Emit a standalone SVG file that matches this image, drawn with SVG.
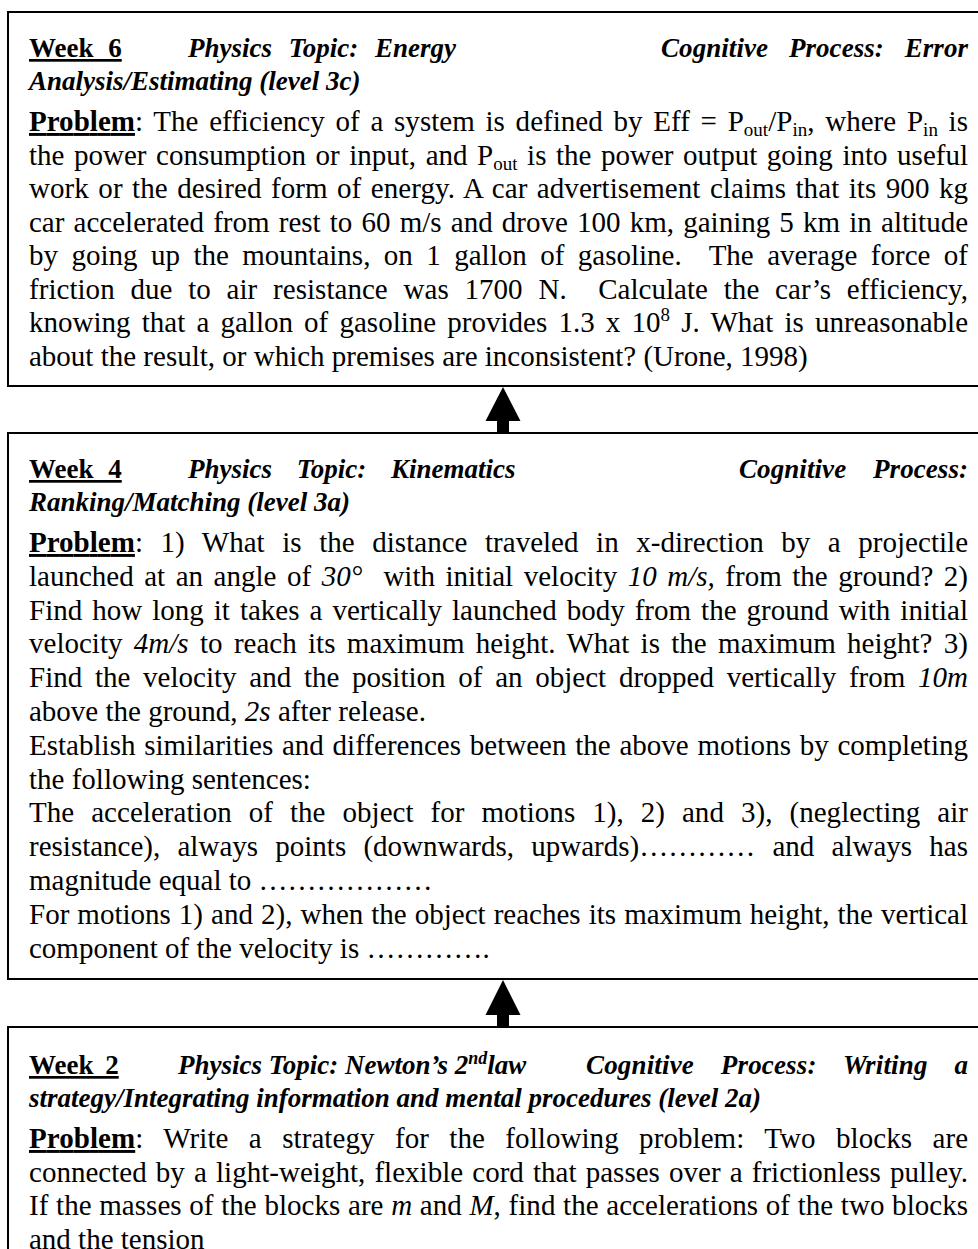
<svg xmlns="http://www.w3.org/2000/svg" width="978" height="1249" viewBox="0 0 978 1249">
<style>
.t{font-family:"Liberation Serif","Times New Roman",serif;font-size:29px;fill:#000}
.h{font-family:"Liberation Serif","Times New Roman",serif;font-size:27px;fill:#000}
.b{font-weight:bold}
.bi{font-weight:bold;font-style:italic}
.i{font-style:italic}
.u{text-decoration:underline}
.sub{font-size:19px;baseline-shift:-5px}
.sup{font-size:19px;baseline-shift:11px}
.hsup{font-size:18px;baseline-shift:10px}
.box{fill:#fff;stroke:#000;stroke-width:2}
.arr{fill:#000;stroke:none}
</style>
<rect x="0" y="0" width="978" height="1249" fill="#fff"/>
<g id="connectors">
<path class="arr" d="M497,433 L497,421 L485.5,421 L503,387 L520.5,421 L509,421 L509,433 Z"/>
<path class="arr" d="M497,1027 L497,1015 L485.5,1015 L503,980 L520.5,1015 L509,1015 L509,1027 Z"/>
</g>
<g id="week6">
<rect class="box" x="8" y="12" width="1000" height="374"/>
<text class="h b u" x="29" y="57" word-spacing="8">Week 6</text>
<text class="h bi" x="188" y="57" word-spacing="10">Physics Topic: Energy</text>
<text class="h bi" x="661" y="57" word-spacing="14" textLength="307" lengthAdjust="spacing">Cognitive Process: Error</text>
<text class="h bi" x="29" y="90">Analysis/Estimating (level 3c)</text>
<text class="t" x="29" y="131" word-spacing="3.44" textLength="939" lengthAdjust="spacing"><tspan class="b u">Problem</tspan>: The efficiency of a system is defined by Eff = P<tspan class="sub">out</tspan>/P<tspan class="sub">in</tspan>, where P<tspan class="sub">in</tspan> is</text>
<text class="t" x="29" y="164.5" word-spacing="2.32" textLength="939" lengthAdjust="spacing">the power consumption or input, and P<tspan class="sub">out</tspan> is the power output going into useful</text>
<text class="t" x="29" y="198" word-spacing="2.12" textLength="939" lengthAdjust="spacing">work or the desired form of energy. A car advertisement claims that its 900 kg</text>
<text class="t" x="29" y="231.5" word-spacing="1.93" textLength="939" lengthAdjust="spacing">car accelerated from rest to 60 m/s and drove 100 km, gaining 5 km in altitude</text>
<text class="t" x="29" y="265" word-spacing="6.2" textLength="939" lengthAdjust="spacing">by going up the mountains, on 1 gallon of gasoline. &#160;The average force of</text>
<text class="t" x="29" y="298.5" word-spacing="8.46" textLength="939" lengthAdjust="spacing">friction due to air resistance was 1700 N. &#160;Calculate the car’s efficiency,</text>
<text class="t" x="29" y="332" word-spacing="3.9" textLength="939" lengthAdjust="spacing">knowing that a gallon of gasoline provides 1.3 x 10<tspan class="sup">8</tspan> J. What is unreasonable</text>
<text class="t" x="29" y="365.5">about the result, or which premises are inconsistent? (Urone, 1998)</text>
</g>
<g id="week4">
<rect class="box" x="8" y="433" width="1000" height="546"/>
<text class="h b u" x="29" y="478" word-spacing="8">Week 4</text>
<text class="h bi" x="188" y="478" word-spacing="18">Physics Topic: Kinematics</text>
<text class="h bi" x="739" y="478" word-spacing="20" textLength="229" lengthAdjust="spacing">Cognitive Process:</text>
<text class="h bi" x="29" y="511">Ranking/Matching (level 3a)</text>
<text class="t" x="29" y="552" word-spacing="10.3" textLength="939" lengthAdjust="spacing"><tspan class="b u">Problem</tspan>: 1) What is the distance traveled in x-direction by a projectile</text>
<text class="t" x="29" y="585.8" word-spacing="3.3" textLength="939" lengthAdjust="spacing">launched at an angle of <tspan class="i">30°</tspan> &#160;with initial velocity <tspan class="i">10 m/s,</tspan> from the ground? 2)</text>
<text class="t" x="29" y="619.6" word-spacing="2.77" textLength="939" lengthAdjust="spacing">Find how long it takes a vertically launched body from the ground with initial</text>
<text class="t" x="29" y="653.4" word-spacing="4.07" textLength="939" lengthAdjust="spacing">velocity <tspan class="i">4m/s</tspan> to reach its maximum height. What is the maximum height? 3)</text>
<text class="t" x="29" y="687.2" word-spacing="5.49" textLength="939" lengthAdjust="spacing">Find the velocity and the position of an object dropped vertically from <tspan class="i">10m</tspan></text>
<text class="t" x="29" y="721">above the ground, <tspan class="i">2s</tspan> after release.</text>
<text class="t" x="29" y="754.8" word-spacing="1.47" textLength="939" lengthAdjust="spacing">Establish similarities and differences between the above motions by completing</text>
<text class="t" x="29" y="788.6">the following sentences:</text>
<text class="t" x="29" y="822.4" word-spacing="9.68" textLength="939" lengthAdjust="spacing">The acceleration of the object for motions 1), 2) and 3), (neglecting air</text>
<text class="t" x="29" y="856.2" word-spacing="10" textLength="939" lengthAdjust="spacing">resistance), always points (downwards, upwards)………… and always has</text>
<text class="t" x="29" y="890">magnitude equal to ………………</text>
<text class="t" x="29" y="923.8" word-spacing="0.79" textLength="939" lengthAdjust="spacing">For motions 1) and 2), when the object reaches its maximum height, the vertical</text>
<text class="t" x="29" y="957.6">component of the velocity is ………….</text>
</g>
<g id="week2">
<rect class="box" x="8" y="1027" width="1000" height="300"/>
<text class="h b u" x="29" y="1074" word-spacing="5">Week 2</text>
<text class="h bi" x="178" y="1074">Physics Topic: Newton’s 2<tspan class="hsup">nd</tspan>law</text>
<text class="h bi" x="586" y="1074" word-spacing="20" textLength="382" lengthAdjust="spacing">Cognitive Process: Writing a</text>
<text class="h bi" x="29" y="1107">strategy/Integrating information and mental procedures (level 2a)</text>
<text class="t" x="29" y="1148" word-spacing="13.04" textLength="939" lengthAdjust="spacing"><tspan class="b u">Problem</tspan>: Write a strategy for the following problem: Two blocks are</text>
<text class="t" x="29" y="1181.5" word-spacing="1.82" textLength="939" lengthAdjust="spacing">connected by a light-weight, flexible cord that passes over a frictionless pulley.</text>
<text class="t" x="29" y="1215" word-spacing="0.37" textLength="939" lengthAdjust="spacing">If the masses of the blocks are <tspan class="i">m</tspan> and <tspan class="i">M</tspan>, find the accelerations of the two blocks</text>
<text class="t" x="29" y="1248.5">and the tension</text>
</g>
</svg>
